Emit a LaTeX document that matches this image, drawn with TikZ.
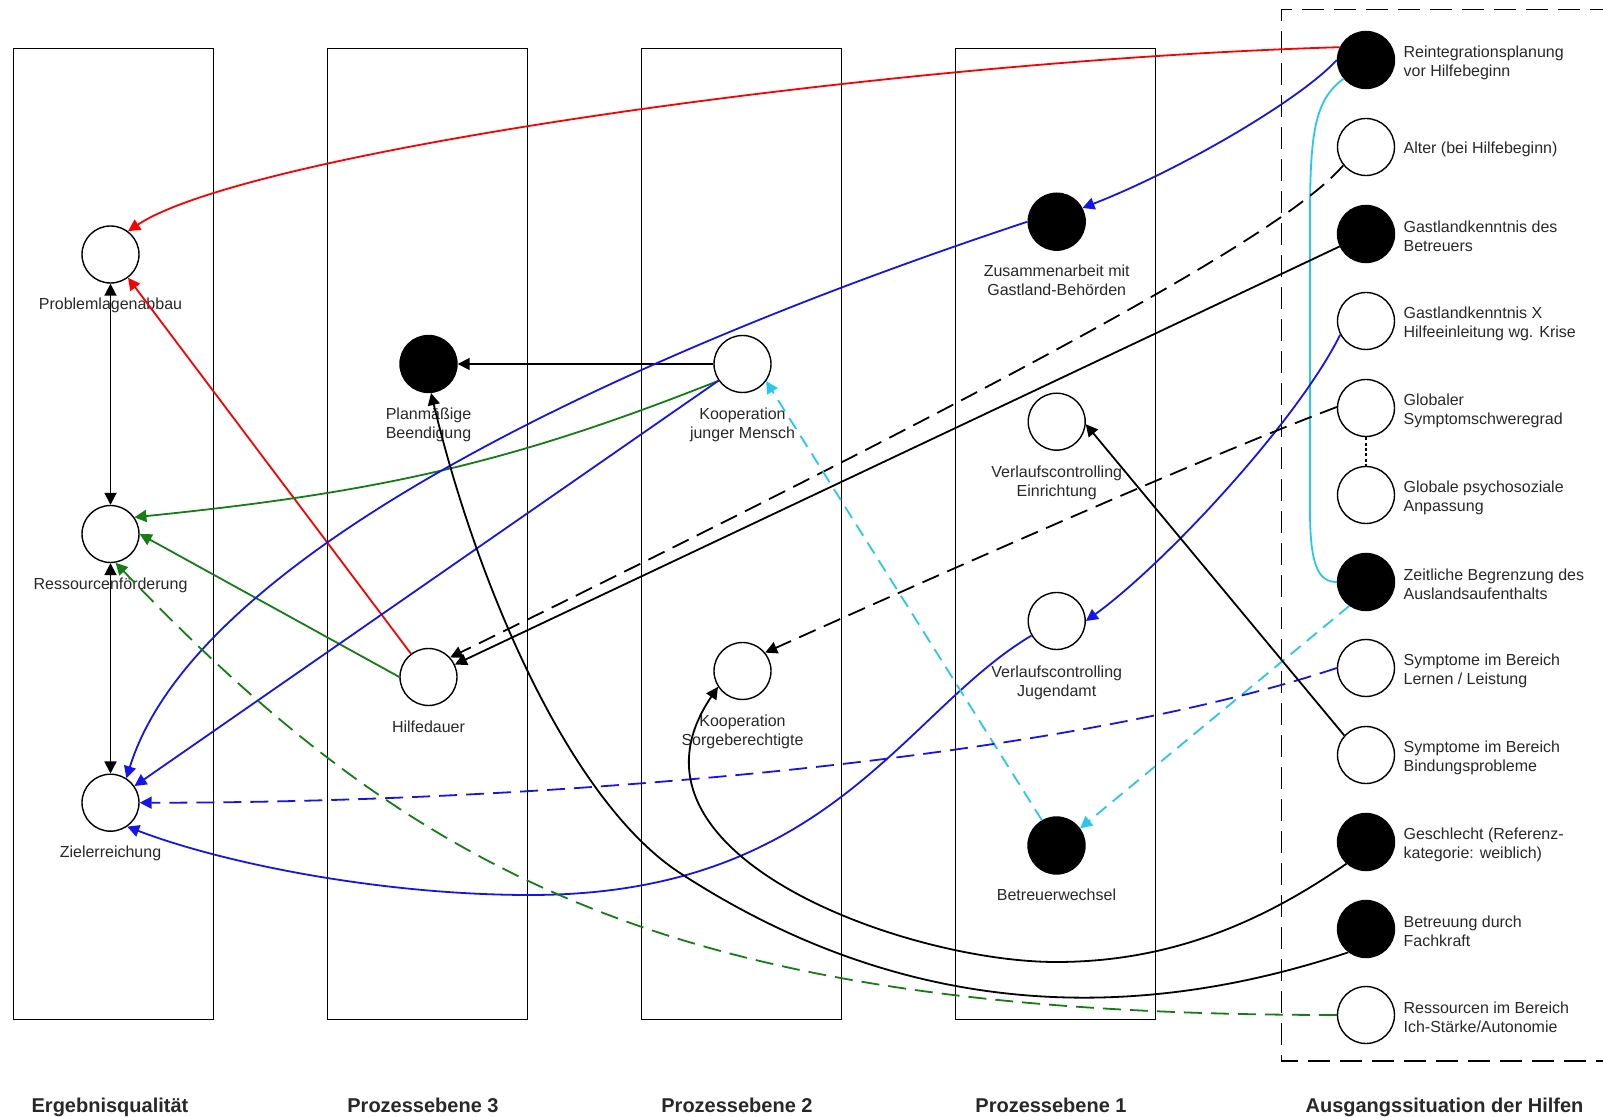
\documentclass[tikz,border=0pt]{standalone}
\usepackage{fontspec}
\setmainfont{Liberation Sans}
\usepackage{xcolor}
\usepackage{tikz}
\usetikzlibrary{arrows.meta,positioning}
\definecolor{rotpfad}{RGB}{250,0,0}
\definecolor{blaupfad}{RGB}{20,20,235}
\definecolor{gruenpfad}{RGB}{20,125,20}
\definecolor{tuerkis}{RGB}{40,200,235}
\definecolor{schrift}{RGB}{40,40,40}
\tikzset{
  var/.style={circle,draw=black,fill=white,minimum size=28.5pt,inner sep=0pt,line width=0.7pt},
  varvoll/.style={circle,draw=black,fill=black,minimum size=28.5pt,inner sep=0pt,line width=0.7pt},
  ebene/.style={rectangle,draw=black,line width=0.6pt,minimum width=100pt,minimum height=485.5pt,inner sep=0pt},
  titel/.style={font=\bfseries\fontsize{10}{12}\selectfont,text=schrift,inner sep=0pt,anchor=base},
  pfeil/.style={-{Triangle[length=6pt,width=6pt]},line width=0.9pt},
  doppelpfeil/.style={{Triangle[length=6pt,width=6pt]}-{Triangle[length=6pt,width=6pt]},line width=0.9pt},
  strich/.style={dash pattern=on 9pt off 4.5pt},
  kurzstrich/.style={dash pattern=on 6.5pt off 4pt}
}

\begin{document}
\begin{tikzpicture}[x=0.5pt,y=-0.5pt,
  beschr/.style={font=\fontsize{8}{9.5}\selectfont,text=schrift,inner sep=0pt,align=center},
  rechts/.style={font=\fontsize{8}{9.5}\selectfont,text=schrift,inner sep=0pt,align=left,anchor=west,yshift=-1.3pt}]
\useasboundingbox (0,0) rectangle (1603,1117);
\node[ebene] (ergebnis) at (113.5,534) {};
\node[ebene] (prozess3) at (427.5,534) {};
\node[ebene] (prozess2) at (741.5,534) {};
\node[ebene] (prozess1) at (1055.5,534) {};
\draw[line width=0.75pt,dash pattern=on 11pt off 5pt] (1612,9.5) -- (1281.5,9.5) -- (1281.5,1061) -- (1612,1061);

\node[titel] (t1) at (110,1112) {Ergebnisqualität};
\node[titel] (t2) at (423,1112) {Prozessebene 3};
\node[titel] (t3) at (737,1112) {Prozessebene 2};
\node[titel] (t4) at (1051,1112) {Prozessebene 1};
\node[titel] (t5) at (1444.5,1112) {Ausgangssituation der Hilfen};

\node[var] (pla) at (110.5,254.5) {};
\node[var] (rf) at (110.5,534) {};
\node[var] (ze) at (110.5,802.7) {};
\node[varvoll] (pb) at (428.5,364) {};
\node[var] (hd) at (428.5,677) {};
\node[var] (kjm) at (742.5,364) {};
\node[var] (ks) at (742.5,671) {};
\node[varvoll] (zgb) at (1056.7,221.7) {};
\node[var] (ve) at (1056.7,421.7) {};
\node[var] (vj) at (1056.7,621) {};
\node[varvoll] (bw) at (1056.5,845.5) {};

\node[beschr,below=7pt of pla] (plat) {Problemlagenabbau};
\node[beschr,below=7pt of rf] (rft) {Ressourcenförderung};
\node[beschr,below=7pt of ze] (zet) {Zielerreichung};
\node[beschr,below=7pt of pb] (pbt) {Planmäßige\\Beendigung};
\node[beschr,below=7pt of hd] (hdt) {Hilfedauer};
\node[beschr,below=7pt of kjm] (kjmt) {Kooperation\\junger Mensch};
\node[beschr,below=7pt of ks] (kst) {Kooperation\\Sorgeberechtigte};
\node[beschr,below=7pt of zgb] (zgbt) {Zusammenarbeit mit\\Gastland-Behörden};
\node[beschr,below=7.5pt of ve] (vet) {Verlaufscontrolling\\Einrichtung};
\node[beschr,below=7.5pt of vj] (vjt) {Verlaufscontrolling\\Jugendamt};
\node[beschr,below=7pt of bw] (bwt) {Betreuerwechsel};

\node[varvoll] (reint) at (1366,60) {};
\node[var] (alter) at (1366,147) {};
\node[varvoll] (gast) at (1366,234) {};
\node[var] (gx) at (1366,321) {};
\node[var] (glob) at (1366,408) {};
\node[var] (anp) at (1366,495) {};
\node[varvoll] (zeit) at (1366,582) {};
\node[var] (sll) at (1366,668) {};
\node[var] (sbp) at (1366,755) {};
\node[varvoll] (geschl) at (1366,842) {};
\node[varvoll] (fach) at (1366,929) {};
\node[var] (ris) at (1366,1015) {};

\node[rechts,right=4pt of reint] (reintt) {Reintegrationsplanung\\vor Hilfebeginn};
\node[rechts,right=4pt of alter] (altert) {Alter (bei Hilfebeginn)};
\node[rechts,right=4pt of gast] (gastt) {Gastlandkenntnis des\\Betreuers};
\node[rechts,right=4pt of gx] (gxt) {Gastlandkenntnis X\\Hilfeeinleitung wg. Krise};
\node[rechts,right=4pt of glob] (globt) {Globaler\\Symptomschweregrad};
\node[rechts,right=4pt of anp] (anpt) {Globale psychosoziale\\Anpassung};
\node[rechts,right=4pt of zeit] (zeitt) {Zeitliche Begrenzung des\\Auslandsaufenthalts};
\node[rechts,right=4pt of sll] (sllt) {Symptome im Bereich\\Lernen / Leistung};
\node[rechts,right=4pt of sbp] (sbpt) {Symptome im Bereich\\Bindungsprobleme};
\node[rechts,right=4pt of geschl] (geschlt) {Geschlecht (Referenz-\\kategorie: weiblich)};
\node[rechts,right=4pt of fach] (facht) {Betreuung durch\\Fachkraft};
\node[rechts,right=4pt of ris] (rist) {Ressourcen im Bereich\\Ich-Stärke/Autonomie};

\draw[doppelpfeil] (pla) -- (rf);
\draw[doppelpfeil] (rf) -- (ze);
\draw[pfeil] (kjm) -- (pb);
\draw[pfeil,rotpfad] (hd) -- (pla);
\draw[pfeil,gruenpfad] (hd.west) -- (rf.east);
\draw[pfeil,gruenpfad] (kjm.215) .. controls (516,461) and (385,492) .. (rf.35);
\draw[pfeil,blaupfad] (kjm) -- (ze);
\draw[pfeil,blaupfad] (zgb.west) .. controls (628,354) and (196,553) .. (ze.57);
\draw[pfeil,blaupfad] (vj.210) .. controls (903,712) and (830,895) .. (530,895)
  .. controls (380,895) and (222,863) .. (ze.-55);
\draw[pfeil,rotpfad] (reint.154) .. controls (900,60) and (250,150) .. (pla.53);
\draw[pfeil,blaupfad] (reint.west) .. controls (1300,100) and (1180,170) .. (zgb.28);
\draw[tuerkis,line width=0.9pt] (reint.220) .. controls (1314,100) and (1310,135) .. (1310,220)
  -- (1310,510) .. controls (1310,565) and (1318,582) .. (zeit.west);
\draw[pfeil,strich] (alter.219) .. controls (1300,215) and (1150,315) .. (hd.42);
\draw[pfeil] (gast) -- (hd);
\draw[pfeil,blaupfad] (gx.208) .. controls (1298,420) and (1166,563) .. (vj.east);
\draw[pfeil,strich] (glob.178) .. controls (1192,462) and (918,584) .. (ks.39);
\draw[line width=0.9pt,dash pattern=on 1.5pt off 1.2pt] (glob) -- (anp);
\draw[pfeil,tuerkis,kurzstrich] (zeit.235) -- (bw.36);
\draw[pfeil,tuerkis,kurzstrich] (bw.120) -- (kjm.-36);
\draw[pfeil,blaupfad,strich] (sll.west) .. controls (1057,761) and (539,803) .. (ze.east);
\draw[pfeil] (sbp.138) -- (ve.-5);
\draw[pfeil] (geschl.228) .. controls (1268,918) and (1176,962) .. (1056,962)
  .. controls (906,962) and (604,854) .. (ks.213);
\draw[pfeil] (fach.233) .. controls (1112,1031) and (889,1009) .. (680,873)
  .. controls (571,802) and (478,589) .. (pb.-85);
\draw[pfeil,gruenpfad,strich] (ris.west) .. controls (687,1015) and (425,887) .. (rf.-80);
\end{tikzpicture}
\end{document}
